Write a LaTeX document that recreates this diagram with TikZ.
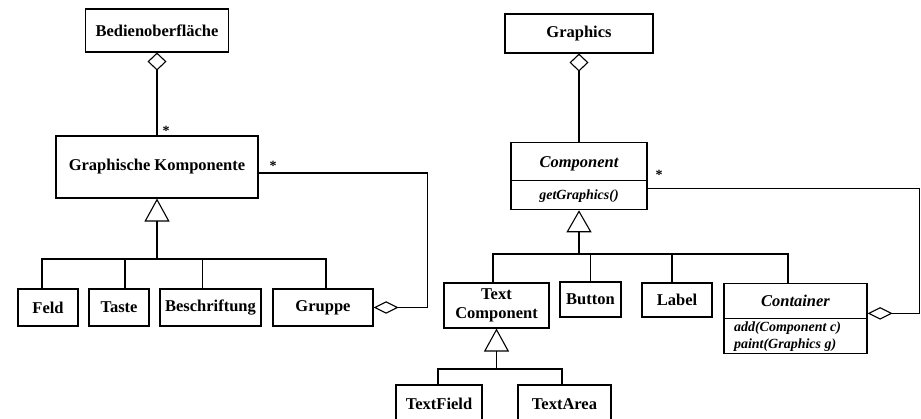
\documentclass[tikz,border=0pt]{standalone}
\usepackage{fontspec}
\setmainfont{Liberation Serif}
\usetikzlibrary{arrows.meta,shapes.multipart,calc}
\begin{document}
\begin{tikzpicture}[x=1pt,y=-1pt,line width=1.1pt,
  box/.style={draw, fill=white, inner sep=0pt, font=\fontsize{16.5}{18.5}\selectfont\bfseries, align=center},
  cls/.style={draw, fill=white, rectangle split, rectangle split parts=2, inner xsep=10pt, inner ysep=0pt, font=\bfseries\itshape},
  gen/.style={-{Triangle[open,length=23pt,width=25pt]}},
  aggv/.style={-{Diamond[open,length=18pt,width=19pt]}},
  aggh/.style={-{Diamond[open,length=25pt,width=12.5pt]}},
  mult/.style={font=\fontsize{14}{14}\selectfont\bfseries, inner sep=0pt}
]
\useasboundingbox (0,0) rectangle (921,419);
\clip (0,0) rectangle (921,419);

% ---------- left diagram ----------
\node[box, minimum width=143pt, minimum height=43pt] (bed) at (157,30.5) {Bedienoberfläche};
\node[box, minimum width=202pt, minimum height=62pt] (gk) at (157,167) {Graphische Komponente};
\node[box, minimum width=60pt, minimum height=37pt] (feld) at (48,307.5) {Feld};
\node[box, minimum width=60pt, minimum height=37pt] (taste) at (119,307.5) {Taste};
\node[box, minimum width=101pt, minimum height=37pt] (besch) at (210.5,307.5) {Beschriftung};
\node[box, minimum width=100pt, minimum height=37pt] (gruppe) at (323,307.5) {Gruppe};
\coordinate (gbar) at (157,259);

\draw[aggv] (gk.north) -- (gk.north |- bed.south);
\draw[gen] (gbar) -- (gk.south);
\draw ([xshift=-6pt]feld.north) |- (gbar) -| ([xshift=3pt]gruppe.north);
\draw ([xshift=6pt]taste.north) |- (gbar);
\draw ([xshift=-8pt]besch.north) |- (gbar);
\draw[aggh] ([yshift=-6pt]gk.east) -- ++(169,0) |- (gruppe.east);

\node[mult] (m1) at (166,131) {*};
\node[mult] (m2) at (273,166) {*};

% ---------- right diagram ----------
\node[box, minimum width=148pt, minimum height=39pt] (graphics) at (579,33.5) {Graphics};
\node[cls, minimum width=136pt, anchor=north] (comp) at (579,142)
  {\rule[-13pt]{0pt}{37pt}\fontsize{16.5}{18}\selectfont Component
   \nodepart{two}\rule[-9.5pt]{0pt}{28pt}\fontsize{14}{16}\selectfont getGraphics()};
\node[box, minimum width=105pt, minimum height=45pt] (tc) at (496.5,305.5) {Text\\Component};
\node[box, minimum width=61pt, minimum height=35pt] (button) at (590.5,299.5) {Button};
\node[box, minimum width=70pt, minimum height=34pt] (label) at (677,300) {Label};
\node[cls, minimum width=143pt, anchor=north, rectangle split part align={center,left}] (cont) at (795.5,283)
  {\rule[-11.5pt]{0pt}{34pt}\fontsize{16.5}{18}\selectfont Container
   \nodepart{two}\fontsize{14}{17}\selectfont
   \begin{tabular}{@{}l@{}}add(Component c)\\ paint(Graphics g)\end{tabular}};
\node[box, minimum width=86pt, minimum height=38pt] (tfield) at (439,404) {TextField};
\node[box, minimum width=93pt, minimum height=38pt] (tarea) at (564.5,404) {TextArea};
\coordinate (cbar) at (579,254);
\coordinate (tbar) at (496.5,369);

\draw[aggv] (comp.north) -- (comp.north |- graphics.south);
\draw[-{Triangle[open,length=22pt,width=25pt]}] (cbar) -- (comp.south);
\draw ([xshift=-3.5pt]tc.north) |- (cbar) -| ([xshift=-7.5pt]cont.north);
\draw (button.north) |- (cbar);
\draw ([xshift=-5pt]label.north) |- (cbar);
\draw[gen] (tbar) -- (tc.south);
\draw ([xshift=-1pt]tfield.north) |- (tbar) -| ([xshift=-2.5pt]tarea.north);
\draw[aggh] ($(comp.north east)!0.677!(comp.south east)$) -- ++(272,0)
  |- ($(cont.north east)!0.426!(cont.south east)$);

\node[mult] (m3) at (659,175) {*};
\end{tikzpicture}
\end{document}
